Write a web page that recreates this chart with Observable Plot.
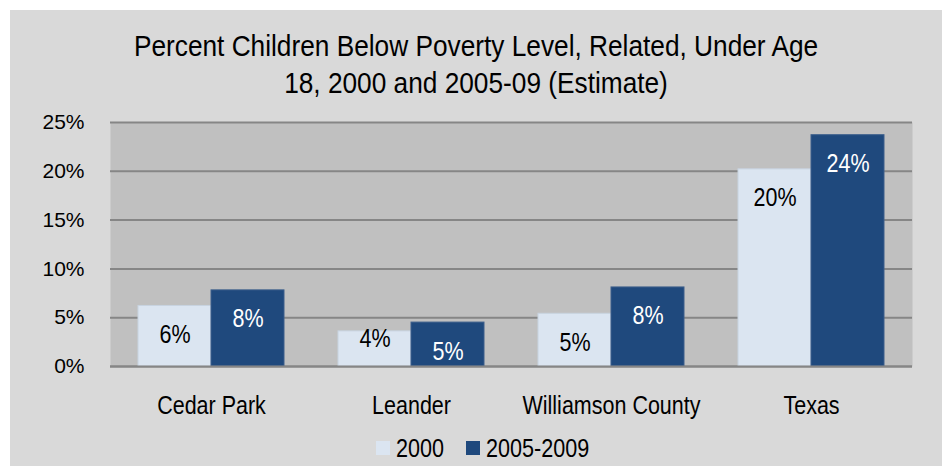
<!DOCTYPE html>
<html>
<head>
<meta charset="utf-8">
<script src="https://cdn.jsdelivr.net/npm/d3@7"></script>
<script src="https://cdn.jsdelivr.net/npm/@observablehq/plot@0.6"></script>
<style>
  html, body { margin: 0; padding: 0; background: #ffffff; }
  body { width: 942px; height: 466px; overflow: hidden; position: relative; }
  #panel { position: absolute; left: 10px; top: 10px; width: 932px; height: 456px; background: #d9d9d9;
           font-family: "Liberation Sans", Arial, sans-serif; color: #000; }
  #title { position: absolute; left: 0; top: 18px; width: 932px; text-align: center; font-size: 29px; line-height: 37px; }
  #title span { display: inline-block; transform: scaleX(0.905); transform-origin: center; white-space: nowrap; }
  #chart { position: absolute; left: 0; top: 100px; }
  .sw { position: absolute; width: 14px; height: 14px; top: 431px; }
  .lt { position: absolute; top: 425px; font-size: 26px; line-height: 26px; white-space: nowrap; transform: scaleX(0.83); transform-origin: left center; }
</style>
</head>
<body>
<div id="panel">
  <div id="title"><span>Percent Children Below Poverty Level, Related, Under Age</span><br><span>18, 2000 and 2005-09 (Estimate)</span></div>
  <div id="chart"></div>
</div>
<script>
const categories = ["Cedar Park", "Leander", "Williamson County", "Texas"];
const series = ["2000", "2005-2009"];
const values2000 = [6.2, 3.6, 5.4, 20.2];
const values2005 = [7.8, 4.5, 8.1, 23.7];
const yTicks = [0, 5, 10, 15, 20, 25];
const colors = ["#dbe5f1", "#1f497d"];
const labelColors = ["#000000", "#ffffff"];

const d2000 = categories.map((c, i) => ({cat: c, v: values2000[i]}));
const d2005 = categories.map((c, i) => ({cat: c, v: values2005[i]}));
const fmt = d => Math.round(d.v) + "%";

const half = 73;
const plot = Plot.plot({
  width: 932,
  height: 320,
  marginLeft: 100,
  marginRight: 30,
  marginTop: 12,
  marginBottom: 64,
  style: {background: "transparent", fontFamily: '"Liberation Sans", Arial, sans-serif', color: "#000"},
  x: {domain: categories, paddingInner: 0.272, paddingOuter: 0.136},
  y: {domain: [0, 25]},
  marks: [
    Plot.frame({fill: "#c0c0c0", stroke: null}),
    Plot.ruleY(yTicks, {stroke: "#868686", strokeWidth: 2}),
    Plot.barY(d2000, {x: "cat", y: "v", fill: colors[0], stroke: "#c8d3e0", strokeWidth: 1, insetRight: half}),
    Plot.barY(d2005, {x: "cat", y: "v", fill: colors[1], stroke: "#3d5f8c", strokeWidth: 1, insetLeft: half}),
    Plot.ruleY([0], {stroke: "#868686", strokeWidth: 2}),
    Plot.text(d2000, {filter: d => d.cat !== "Leander", x: "cat", y: "v", text: fmt, dx: -36.5, dy: 29, fill: labelColors[0], fontSize: 25}),
    Plot.text(d2000, {filter: d => d.cat === "Leander", x: "cat", y: "v", text: fmt, dx: -36.5, dy: 8, fill: labelColors[0], fontSize: 25}),
    Plot.text(d2005, {x: "cat", y: "v", text: fmt, dx: 36.5, dy: 29, fill: labelColors[1], fontSize: 25}),
    Plot.axisY({ticks: yTicks, tickFormat: d => d + "%", tickSize: 0, tickPadding: 26, fontSize: 21, label: null}),
    Plot.axisX({tickSize: 0, tickPadding: 30, fontSize: 25, label: null})
  ]
});
document.getElementById("chart").appendChild(plot);

// condense text horizontally (narrow typeface look)
function condense(selector, f) {
  plot.querySelectorAll(selector).forEach(t => {
    const len = t.getComputedTextLength();
    t.setAttribute("textLength", (len * f).toFixed(1));
    t.setAttribute("lengthAdjust", "spacingAndGlyphs");
  });
}
condense('g[aria-label="x-axis tick label"] text', 0.86);
condense('g[aria-label="text"] text', 0.86);

// legend
const panel = document.getElementById("panel");
const legendPos = [{sw: 366, tx: 386}, {sw: 456, tx: 476}];
series.forEach((s, i) => {
  const sw = document.createElement("div");
  sw.className = "sw";
  sw.style.left = legendPos[i].sw + "px";
  sw.style.background = colors[i];
  panel.appendChild(sw);
  const t = document.createElement("div");
  t.className = "lt";
  t.style.left = legendPos[i].tx + "px";
  t.textContent = s;
  panel.appendChild(t);
});
</script>
</body>
</html>
